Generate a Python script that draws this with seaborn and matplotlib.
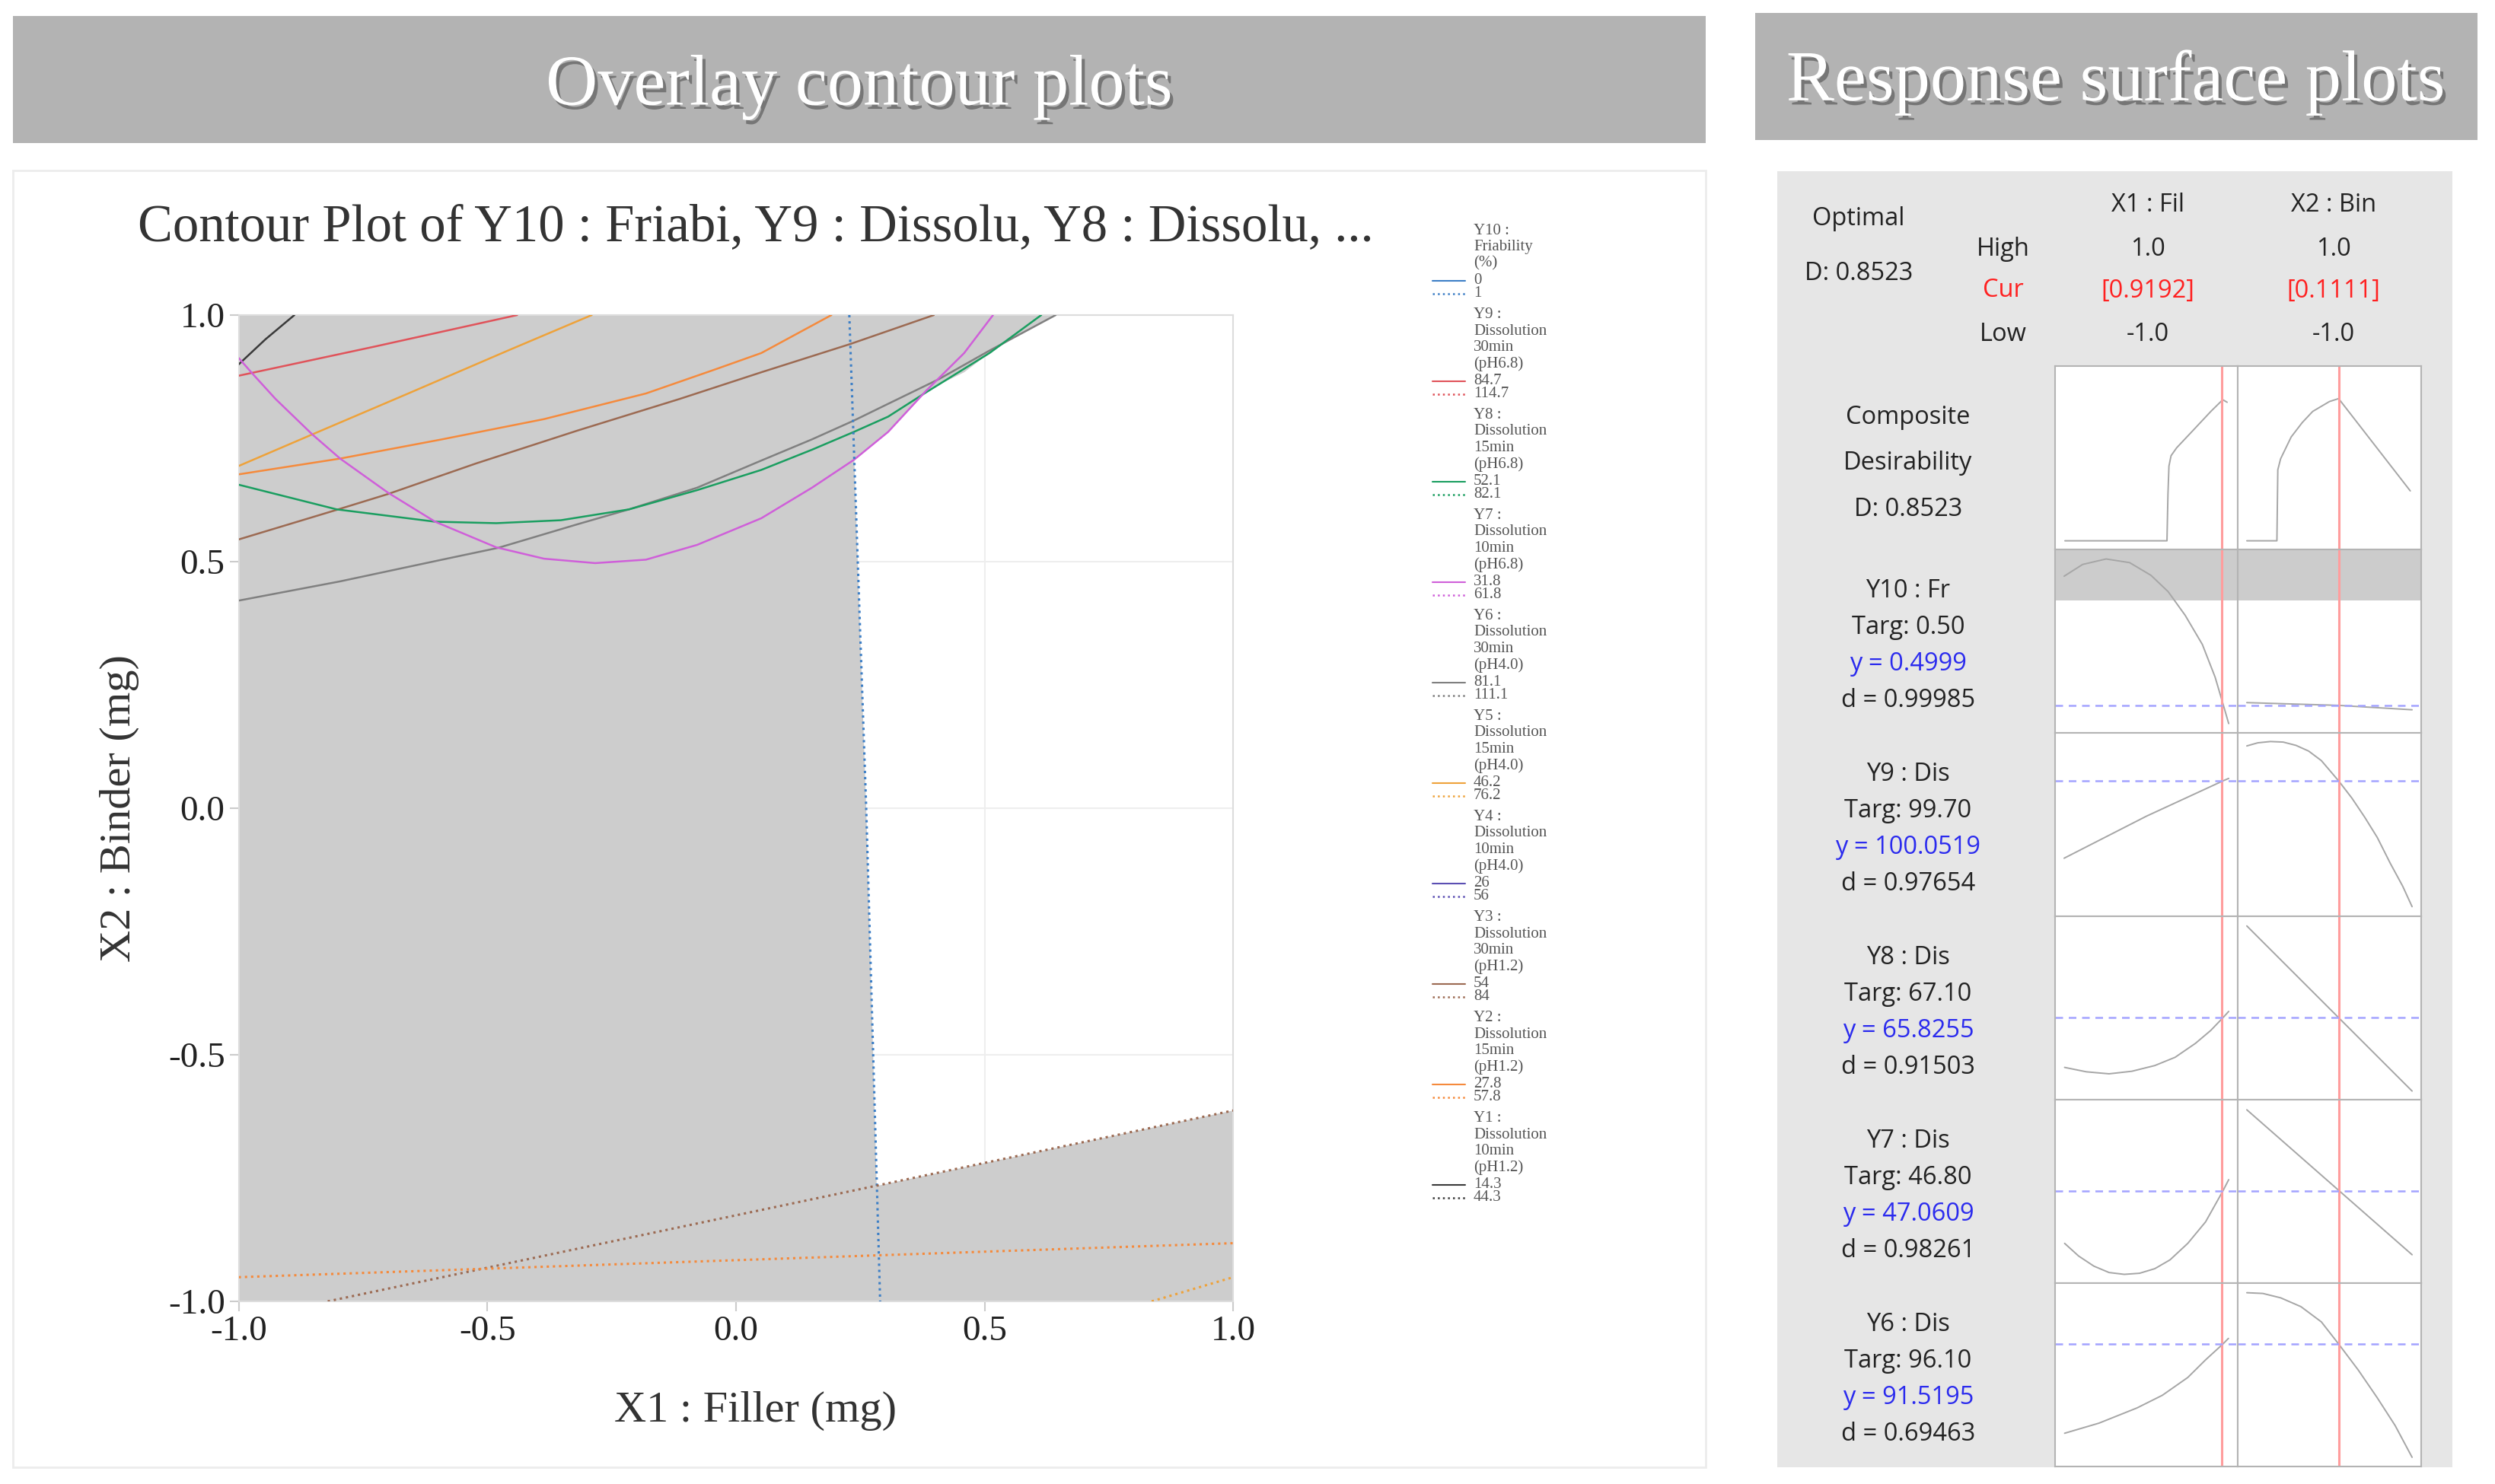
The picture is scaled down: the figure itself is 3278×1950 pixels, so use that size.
import matplotlib
matplotlib.use("Agg")
import matplotlib.pyplot as plt
import matplotlib.patheffects as pe
from matplotlib.lines import Line2D
from matplotlib.patches import Rectangle
import seaborn as sns

# -----------------------------
# Overlay contour plot: contour lines (coded X1, X2)
# -----------------------------
y1_lo_x = [-1.0, -0.946, -0.888]
y1_lo_y = [0.900, 0.951, 1.0]
y9_lo_x = [-1.0, -0.727, -0.440]
y9_lo_y = [0.877, 0.936, 1.0]
y5_lo_x = [-1.0, -0.852, -0.659, -0.454, -0.290]
y5_lo_y = [0.694, 0.758, 0.841, 0.930, 1.0]
y2_lo_x = [-1.0, -0.796, -0.591, -0.386, -0.181, -0.044, 0.051, 0.192]
y2_lo_y = [0.677, 0.709, 0.748, 0.789, 0.841, 0.889, 0.923, 1.0]
y3_lo_x = [-1.0, -0.803, -0.700, -0.523, -0.318, -0.113, 0.051, 0.229, 0.398]
y3_lo_y = [0.545, 0.605, 0.637, 0.699, 0.766, 0.830, 0.884, 0.941, 1.0]
y6_lo_x = [-1.0, -0.796, -0.591, -0.478, -0.318, -0.215, -0.078, 0.051, 0.153, 0.237,
           0.306, 0.408, 0.510, 0.643]
y6_lo_y = [0.421, 0.460, 0.504, 0.528, 0.576, 0.606, 0.650, 0.705, 0.748, 0.786,
           0.820, 0.870, 0.928, 1.0]
y8_lo_x = [-1.0, -0.803, -0.605, -0.482, -0.352, -0.215, -0.078, 0.051, 0.153, 0.237,
           0.306, 0.382, 0.510, 0.614]
y8_lo_y = [0.656, 0.606, 0.581, 0.578, 0.584, 0.606, 0.645, 0.686, 0.727, 0.763,
           0.794, 0.843, 0.923, 1.0]
y7_lo_x = [-1.0, -0.973, -0.926, -0.852, -0.796, -0.700, -0.605, -0.482, -0.386, -0.283,
           -0.181, -0.078, 0.051, 0.153, 0.238, 0.306, 0.382, 0.459, 0.517]
y7_lo_y = [0.913, 0.882, 0.830, 0.758, 0.709, 0.640, 0.581, 0.529, 0.506, 0.497,
           0.504, 0.534, 0.588, 0.650, 0.707, 0.763, 0.846, 0.923, 1.0]
y10_hi_x = [0.228, 0.238, 0.250, 0.262, 0.276, 0.290]
y10_hi_y = [1.0, 0.707, 0.352, 0.0, -0.5, -1.0]
y3_hi_x = [-0.821, 1.0]
y3_hi_y = [-1.0, -0.613]
y2_hi_x = [-1.0, 1.0]
y2_hi_y = [-0.951, -0.882]
y5_hi_x = [0.836, 1.0]
y5_hi_y = [-1.0, -0.951]

# outline of the shaded (outside spec) area
shade_x = [-1.0, 1.0, 1.0, 0.283, 0.276, 0.262, 0.250, 0.238, 0.306, 0.382, 0.459,
           0.510, 0.550, 0.643, -1.0]
shade_y = [-1.0, -1.0, -0.613, -0.766, -0.5, 0.0, 0.352, 0.707, 0.763, 0.846, 0.884,
           0.923, 0.948, 1.0, 1.0]

tick_vals = [-1.0, -0.5, 0.0, 0.5, 1.0]

# legend contents
resp_titles = ["Y10 :\nFriability\n(%)",
               "Y9 :\nDissolution\n30min\n(pH6.8)",
               "Y8 :\nDissolution\n15min\n(pH6.8)",
               "Y7 :\nDissolution\n10min\n(pH6.8)",
               "Y6 :\nDissolution\n30min\n(pH4.0)",
               "Y5 :\nDissolution\n15min\n(pH4.0)",
               "Y4 :\nDissolution\n10min\n(pH4.0)",
               "Y3 :\nDissolution\n30min\n(pH1.2)",
               "Y2 :\nDissolution\n15min\n(pH1.2)",
               "Y1 :\nDissolution\n10min\n(pH1.2)"]
low_levels = ["0", "84.7", "52.1", "31.8", "81.1", "46.2", "26", "54", "27.8", "14.3"]
high_levels = ["1", "114.7", "82.1", "61.8", "111.1", "76.2", "56", "84", "57.8", "44.3"]
resp_colors = ["#3d7fc6", "#e0535a", "#1a9e60", "#cf5fd9", "#808080",
               "#eea23a", "#5b4fb3", "#9c6a52", "#f58a3c", "#3a3a3a"]

# -----------------------------
# Response (optimization) plots: curves as fraction of panel height
# -----------------------------
factor_names = ["X1 : Fil", "X2 : Bin"]
factor_high = ["1.0", "1.0"]
factor_cur = ["[0.9192]", "[0.1111]"]
factor_low = ["-1.0", "-1.0"]
cur_settings = [0.9192, 0.1111]

comp_x1 = [-0.99, 0.25, 0.262, 0.274, 0.30, 0.368, 0.576, 0.783, 0.928, 0.981]
comp_y1 = [0.046, 0.046, 0.30, 0.453, 0.51, 0.553, 0.652, 0.751, 0.815, 0.801]
comp_x2 = [-1.0, -0.636, -0.625, -0.591, -0.463, -0.33, -0.203, 0.0, 0.111, 0.978]
comp_y2 = [0.046, 0.046, 0.433, 0.493, 0.612, 0.69, 0.751, 0.805, 0.821, 0.318]

y10_x1 = [-1.0, -0.775, -0.490, -0.204, 0.055, 0.264, 0.471, 0.680, 0.835, 0.929, 1.0]
y10_y1 = [0.853, 0.917, 0.947, 0.927, 0.858, 0.769, 0.640, 0.481, 0.303, 0.160, 0.050]
y10_x2 = [-1.0, 0.111, 1.0]
y10_y2 = [0.164, 0.149, 0.125]

y9_x1 = [-1.0, 0.0, 0.928, 1.0]
y9_y1 = [0.316, 0.545, 0.737, 0.751]
y9_x2 = [-1.0, -0.867, -0.714, -0.560, -0.405, -0.252, -0.098, 0.112, 0.271, 0.426,
         0.579, 0.733, 0.887, 1.0]
y9_y2 = [0.928, 0.945, 0.952, 0.949, 0.931, 0.900, 0.848, 0.737, 0.644, 0.540,
         0.429, 0.291, 0.163, 0.052]

y8_x1 = [-0.994, -0.731, -0.454, -0.176, 0.102, 0.349, 0.596, 0.781, 0.929, 1.0]
y8_y1 = [0.176, 0.152, 0.141, 0.155, 0.186, 0.231, 0.307, 0.377, 0.446, 0.481]
y8_x2 = [-1.0, 1.0]
y8_y2 = [0.947, 0.047]

y7_x1 = [-0.994, -0.824, -0.639, -0.454, -0.269, -0.083, 0.102, 0.287, 0.503, 0.719,
         0.929, 1.0]
y7_y1 = [0.217, 0.148, 0.093, 0.058, 0.048, 0.054, 0.079, 0.127, 0.217, 0.334,
         0.502, 0.564]
y7_x2 = [-1.0, 1.0]
y7_y2 = [0.945, 0.155]

y6_x1 = [-0.994, -0.577, -0.114, 0.194, 0.503, 0.719, 0.929, 0.997]
y6_y1 = [0.182, 0.237, 0.320, 0.389, 0.486, 0.582, 0.668, 0.699]
y6_x2 = [-1.0, -0.806, -0.590, -0.345, -0.098, 0.112, 0.348, 0.579, 0.795, 1.0]
y6_y2 = [0.948, 0.944, 0.920, 0.872, 0.789, 0.668, 0.527, 0.375, 0.224, 0.051]

pred_levels = [0.149, 0.737, 0.446, 0.502, 0.668]   # dashed line = predicted y
resp_short = ["Y10 : Fr", "Y9 : Dis", "Y8 : Dis", "Y7 : Dis", "Y6 : Dis"]
targets = ["0.50", "99.70", "67.10", "46.80", "96.10"]
preds = ["0.4999", "100.0519", "65.8255", "47.0609", "91.5195"]
dvals = ["0.99985", "0.97654", "0.91503", "0.98261", "0.69463"]

# -----------------------------
# Figure
# -----------------------------
sns.set_theme(style="white")
plt.rcParams['font.family'] = ['Liberation Serif', 'DejaVu Serif']
plt.rcParams['axes.unicode_minus'] = False

W, H = 3278, 1950
fig = plt.figure(figsize=(W / 100, H / 100), dpi=100)


def box(x0, y0, x1, y1):
    return [x0 / W, 1 - y1 / H, (x1 - x0) / W, (y1 - y0) / H]


def rect(x0, y0, x1, y1, **kw):
    fig.add_artist(Rectangle((x0 / W, 1 - y1 / H), (x1 - x0) / W, (y1 - y0) / H,
                             transform=fig.transFigure, zorder=-5, **kw))


# panels and banners
rect(17, 224, 2241, 1928, facecolor="white", edgecolor="#ececec", lw=2)
rect(2335, 225, 3222, 1928, facecolor="#e6e6e6", lw=0)
rect(17, 21, 2241, 188, facecolor="#b3b3b3", lw=0)
rect(2306, 17, 3255, 184, facecolor="#b3b3b3", lw=0)

shadow = [pe.withSimplePatchShadow(offset=(3, -4), shadow_rgbFace="#444444", alpha=0.55)]
fig.text(1129 / W, 1 - 115 / H, "Overlay contour plots", fontsize=68, color="white",
         ha="center", va="center", path_effects=shadow)
fig.text(2780 / W, 1 - 109 / H, "Response surface plots", fontsize=68, color="white",
         ha="center", va="center", path_effects=shadow)

# ---- overlay contour plot ----
ax = fig.add_axes(box(313.6, 414, 1620.2, 1710))
ax.set_facecolor("white")
ax.fill(shade_x, shade_y, color="#cdcdcd", lw=0, zorder=1)

curves = [
    (y1_lo_x, y1_lo_y, 9, "-"), (y9_lo_x, y9_lo_y, 1, "-"), (y5_lo_x, y5_lo_y, 5, "-"),
    (y2_lo_x, y2_lo_y, 8, "-"), (y3_lo_x, y3_lo_y, 7, "-"), (y6_lo_x, y6_lo_y, 4, "-"),
    (y8_lo_x, y8_lo_y, 2, "-"), (y7_lo_x, y7_lo_y, 3, "-"),
    (y10_hi_x, y10_hi_y, 0, ":"), (y3_hi_x, y3_hi_y, 7, ":"),
    (y2_hi_x, y2_hi_y, 8, ":"), (y5_hi_x, y5_hi_y, 5, ":"),
]
for cx, cy, ci, ls in curves:
    sns.lineplot(x=cx, y=cy, ax=ax, color=resp_colors[ci], lw=1.8 if ls == "-" else 2.2,
                 linestyle=ls, sort=False, estimator=None, zorder=3)

ax.set_xlim(-1, 1)
ax.set_ylim(-1, 1)
ax.set_xticks(tick_vals)
ax.set_yticks(tick_vals)
ax.set_xticklabels([f"{t:.1f}" for t in tick_vals])
ax.set_yticklabels([f"{t:.1f}" for t in tick_vals])
ax.set_xlabel("")
ax.set_ylabel("")
ax.grid(True, color="#eeeeee", lw=1.5)
ax.set_axisbelow(True)
for s in ax.spines.values():
    s.set_color("#dddddd")
    s.set_linewidth(1.5)
ax.tick_params(bottom=True, left=True, length=9, width=1.5, color="#cccccc",
               labelsize=34, labelcolor="#222222", pad=4)

fig.text(993 / W, 1 - 299 / H, "Contour Plot of Y10 : Friabi, Y9 : Dissolu, Y8 : Dissolu, ...",
         fontsize=49.5, color="#333333", ha="center", va="center")
fig.text(993 / W, 1 - 1854 / H, "X1 : Filler (mg)", fontsize=42, color="#333333",
         ha="center", va="center")
fig.text(157 / W, 1 - 1062 / H, "X2 : Binder (mg)", fontsize=42, color="#333333",
         ha="center", va="center", rotation=90)

# legend (Minitab style: response name, then low / high contour)
leg = dict(fontsize=15, color="#555555", ha="left", va="center", family="Liberation Serif")
ypos = 303
for name, lo, hi, col in zip(resp_titles, low_levels, high_levels, resp_colors):
    for ln in name.split("\n"):
        fig.text(1936 / W, 1 - ypos / H, ln, **leg)
        ypos += 21.4
    ypos += 23 - 21.4
    fig.add_artist(Line2D([1882 / W, 1925 / W], [1 - ypos / H] * 2,
                          transform=fig.transFigure, color=col, lw=1.5))
    fig.text(1936 / W, 1 - ypos / H, lo, **leg)
    ypos += 17
    fig.add_artist(Line2D([1882 / W, 1925 / W], [1 - ypos / H] * 2,
                          transform=fig.transFigure, color=col, lw=1.8, linestyle=":"))
    fig.text(1936 / W, 1 - ypos / H, hi, **leg)
    ypos += 27.8

# ---- optimization plots ----
sans = dict(family=["Open Sans", "DejaVu Sans"], fontsize=23.5, color="#222222",
            ha="center", va="center")
red = {**sans, "color": "#ff2020"}
fig.text(2442 / W, 1 - 288 / H, "Optimal", **sans)
fig.text(2442 / W, 1 - 359 / H, "D: 0.8523", **sans)
fig.text(2632 / W, 1 - 328 / H, "High", **sans)
fig.text(2632 / W, 1 - 382 / H, "Cur", **red)
fig.text(2632 / W, 1 - 439 / H, "Low", **sans)

col_x = [(2700, 2940), (2940, 3181)]
col_c = [2822, 3066]
for c in range(2):
    fig.text(col_c[c] / W, 1 - 269 / H, factor_names[c], **sans)
    fig.text(col_c[c] / W, 1 - 328 / H, factor_high[c], **sans)
    fig.text(col_c[c] / W, 1 - 382 / H, factor_cur[c], **red)
    fig.text(col_c[c] / W, 1 - 439 / H, factor_low[c], **sans)

row_top, row_h = 480.6, 241.1
row_curves = [
    (comp_x1, comp_y1, comp_x2, comp_y2),
    (y10_x1, y10_y1, y10_x2, y10_y2),
    (y9_x1, y9_y1, y9_x2, y9_y2),
    (y8_x1, y8_y1, y8_x2, y8_y2),
    (y7_x1, y7_y1, y7_x2, y7_y2),
    (y6_x1, y6_y1, y6_x2, y6_y2),
]
for r, rc in enumerate(row_curves):
    top = row_top + r * row_h
    for c in range(2):
        a = fig.add_axes(box(col_x[c][0], top, col_x[c][1], top + row_h))
        a.set_facecolor("white")
        if r == 1:
            a.axhspan(0.719, 1.0, color="#cccccc", lw=0)
        sns.lineplot(x=rc[2 * c], y=rc[2 * c + 1], ax=a, color="#a6a6a6", lw=1.4,
                     sort=False, estimator=None)
        a.axvline(cur_settings[c], color="#ff9d9d", lw=2.2)
        if r > 0:
            a.axhline(pred_levels[r - 1], color="#a3a3ff", lw=1.8, dashes=(4, 3))
        a.set_xlim(-1.11, 1.11)
        a.set_ylim(0, 1)
        a.set_xticks([])
        a.set_yticks([])
        a.set_xlabel("")
        a.set_ylabel("")
        for s in a.spines.values():
            s.set_color("#b4b4b4")
            s.set_linewidth(1.5)

    yc = top + row_h / 2 + 4
    if r == 0:
        for txt, off in zip(["Composite", "Desirability", "D: 0.8523"], [-57, 3, 64]):
            fig.text(2507 / W, 1 - (yc + off) / H, txt, **sans)
    else:
        i = r - 1
        lines = [resp_short[i], "Targ: " + targets[i], "y = " + preds[i], "d = " + dvals[i]]
        cols = ["#222222", "#222222", "#2b2bee", "#222222"]
        for txt, off, col in zip(lines, [-70, -22, 26, 74], cols):
            fig.text(2507 / W, 1 - (yc + off) / H, txt, **{**sans, "color": col})

fig.savefig("out.png", dpi=100)
